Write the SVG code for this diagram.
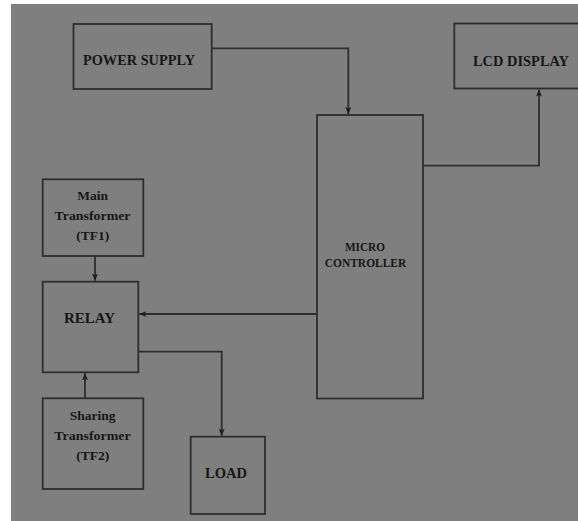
<svg xmlns="http://www.w3.org/2000/svg" width="578" height="521" viewBox="0 0 578 521">
<style>
.box{fill:none;stroke:#2e2e2e;stroke-width:1.8}
.con{fill:none;stroke:#2e2e2e;stroke-width:1.8}
text{font-family:"Liberation Serif","Times New Roman",serif;font-weight:bold;fill:#161616;text-anchor:middle}
</style>
<defs>
<marker id="ah" markerUnits="userSpaceOnUse" markerWidth="8" markerHeight="8" viewBox="0 0 8 8" refX="7" refY="4" orient="auto">
<path d="M0,1 L7,4 L0,7 L1.5,4 Z" fill="#1e1e1e"/>
</marker>
</defs>
<rect x="0" y="0" width="578" height="521" fill="#ffffff"/>
<rect x="11" y="4" width="567" height="517" fill="#7f7f7f"/>
<g id="connectors">
<path class="con" d="M211.7,48.3 H348.3 V114" marker-end="url(#ah)"/>
<path class="con" d="M423,165.7 H539 V89.5" marker-end="url(#ah)"/>
<path class="con" d="M317,314 H139.3" marker-end="url(#ah)"/>
<path class="con" d="M95,256 V280.7" marker-end="url(#ah)"/>
<path class="con" d="M85,398.3 V373.3" marker-end="url(#ah)"/>
<path class="con" d="M138.3,351.7 H221.7 V435.7" marker-end="url(#ah)"/>
</g>
<g id="power-supply">
<rect class="box" x="73.5" y="24" width="138.2" height="65"/>
<text x="139" y="65" font-size="14" textLength="112" lengthAdjust="spacingAndGlyphs">POWER SUPPLY</text>
</g>
<g id="lcd-display">
<rect class="box" x="454.3" y="23.5" width="130" height="65"/>
<text x="521" y="65.5" font-size="14" textLength="96" lengthAdjust="spacingAndGlyphs">LCD DISPLAY</text>
</g>
<g id="micro-controller">
<rect class="box" x="317" y="115" width="106" height="283.5"/>
<text x="365" y="250.5" font-size="11.5" textLength="40" lengthAdjust="spacingAndGlyphs">MICRO</text>
<text x="365.5" y="267" font-size="11.5" textLength="81.5" lengthAdjust="spacingAndGlyphs">CONTROLLER</text>
</g>
<g id="main-transformer">
<rect class="box" x="42.7" y="179.3" width="100.6" height="76.7"/>
<text x="92.7" y="199.5" font-size="13.5">Main</text>
<text x="92.5" y="219.5" font-size="13.5" textLength="76" lengthAdjust="spacingAndGlyphs">Transformer</text>
<text x="92.7" y="239.5" font-size="13.5">(TF1)</text>
</g>
<g id="relay">
<rect class="box" x="42.7" y="281.7" width="95.6" height="90.6"/>
<text x="89.5" y="323" font-size="14.5" textLength="51" lengthAdjust="spacingAndGlyphs">RELAY</text>
</g>
<g id="sharing-transformer">
<rect class="box" x="42.7" y="398.3" width="100.6" height="90.7"/>
<text x="92.7" y="419.5" font-size="13.5">Sharing</text>
<text x="92.5" y="439.5" font-size="13.5" textLength="76.5" lengthAdjust="spacingAndGlyphs">Transformer</text>
<text x="92.7" y="459.5" font-size="13.5">(TF2)</text>
</g>
<g id="load">
<rect class="box" x="190.7" y="436.7" width="74.3" height="77.3"/>
<text x="226" y="478" font-size="14.5" textLength="42" lengthAdjust="spacingAndGlyphs">LOAD</text>
</g>
</svg>
